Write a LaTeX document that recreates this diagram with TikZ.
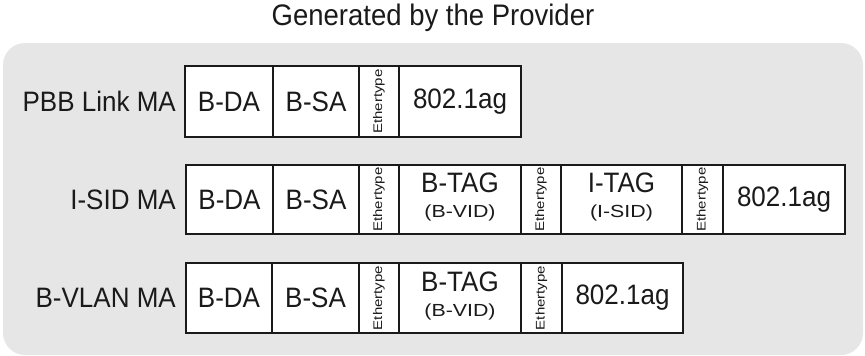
\documentclass[tikz,border=0pt]{standalone}
\usepackage{fontspec}
\setmainfont{Liberation Sans}
\usepackage{graphicx}
\definecolor{bggray}{HTML}{E6E6E6}
\definecolor{ink}{HTML}{1A1A1A}
\tikzset{
  cell/.style={draw=ink, line width=1.5pt, fill=white, inner sep=0pt, text=ink,
    font=\fontsize{26}{28}\selectfont},
  ethcell/.style={cell, font=\fontsize{12.5}{14}\selectfont},
  rowlabel/.style={anchor=east, inner sep=0pt, text=ink, font=\fontsize{26}{28}\selectfont},
}
\newcommand{\tx}[1]{\scalebox{1}[1.08]{#1}}
\newcommand{\ethtext}{\rotatebox{90}{\scalebox{1.2}[1]{Ethertype}}}
\newcommand{\twoline}[2]{\raisebox{-4pt}{\begin{tabular}{@{}c@{}}\fontsize{26}{26}\selectfont\tx{#1}\\[-3pt]\fontsize{17.5}{20}\selectfont\scalebox{1.22}[1]{#2}\end{tabular}}}
\begin{document}
\begin{tikzpicture}[x=1pt,y=-1pt]
\useasboundingbox (0,0) rectangle (865,356);
% background
\node[fill=bggray, rounded corners=22pt, minimum width=860pt, minimum height=312pt, inner sep=0pt] (bg) at (433,199) {};
\node[text=ink, font=\fontsize{27.5}{30}\selectfont, inner sep=0pt] (title) at (433,18) {\tx{Generated by the Provider}};

% Row 1
\node[rowlabel] (l1) at (176,101.5) {\tx{PBB Link MA}};
\node[cell, minimum width=88pt, minimum height=71pt] (a1) at (229,101.5) {\tx{B-DA}};
\node[cell, minimum width=86pt, minimum height=71pt] (b1) at (316,101.5) {\tx{B-SA}};
\node[ethcell, minimum width=40pt, minimum height=71pt] (c1) at (379,101.5) {\ethtext};
\node[cell, minimum width=122pt, minimum height=71pt] (d1) at (460,101.5) {\tx{802.1ag}};

% Row 2
\node[rowlabel] (l2) at (176,199.5) {\tx{I-SID MA}};
\node[cell, minimum width=87pt, minimum height=69pt] (a2) at (229.5,199.5) {\tx{B-DA}};
\node[cell, minimum width=86pt, minimum height=69pt] (b2) at (316,199.5) {\tx{B-SA}};
\node[ethcell, minimum width=40pt, minimum height=69pt] (c2) at (379,199.5) {\ethtext};
\node[cell, minimum width=122pt, minimum height=69pt] (d2) at (460,199.5) {\twoline{B-TAG}{(B-VID)}};
\node[ethcell, minimum width=40pt, minimum height=69pt] (e2) at (541,199.5) {\ethtext};
\node[cell, minimum width=121pt, minimum height=69pt] (f2) at (621.5,199.5) {\twoline{I-TAG}{(I-SID)}};
\node[ethcell, minimum width=41pt, minimum height=69pt] (g2) at (702.5,199.5) {\ethtext};
\node[cell, minimum width=122pt, minimum height=69pt] (h2) at (784,199.5) {\tx{802.1ag}};

% Row 3
\node[rowlabel] (l3) at (176,298) {\tx{B-VLAN MA}};
\node[cell, minimum width=86pt, minimum height=70pt] (a3) at (229,298) {\tx{B-DA}};
\node[cell, minimum width=87pt, minimum height=70pt] (b3) at (315.5,298) {\tx{B-SA}};
\node[ethcell, minimum width=40pt, minimum height=70pt] (c3) at (379,298) {\ethtext};
\node[cell, minimum width=122pt, minimum height=70pt] (d3) at (460,298) {\twoline{B-TAG}{(B-VID)}};
\node[ethcell, minimum width=41pt, minimum height=70pt] (e3) at (541.5,298) {\ethtext};
\node[cell, minimum width=121pt, minimum height=70pt] (f3) at (622.5,298) {\tx{802.1ag}};
\end{tikzpicture}
\end{document}
